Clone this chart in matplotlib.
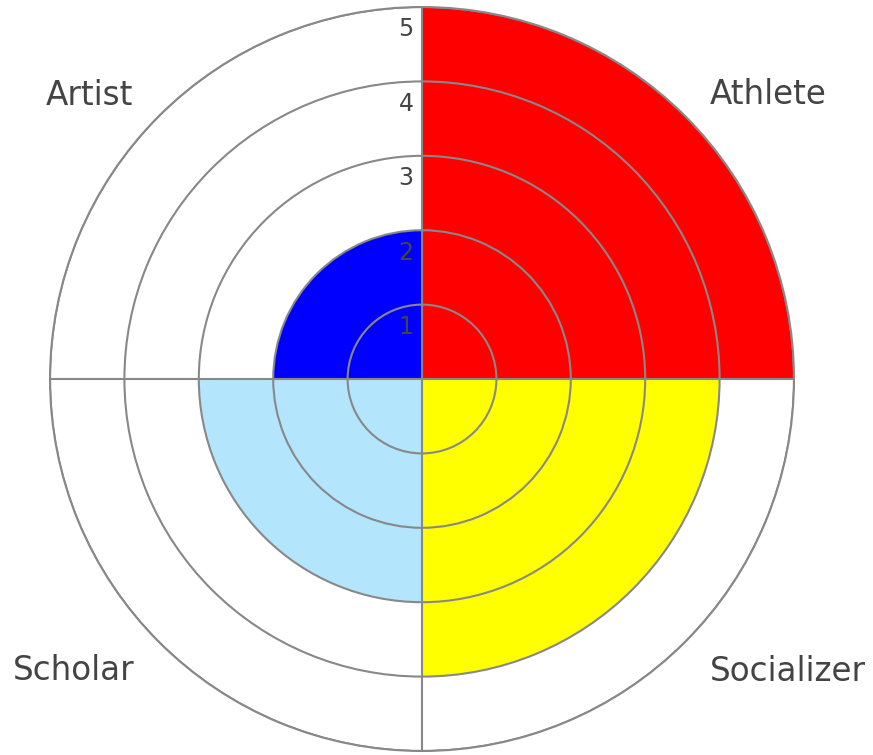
import numpy as np
import matplotlib
matplotlib.use("Agg")
import matplotlib.pyplot as plt

# quadrant data, counter-clockwise from 0 deg
categories = ["Athlete", "Artist", "Scholar", "Socializer"]
scores = [5, 2, 3, 4]
colors = ["#ff0000", "#0000ff", "#b3e5fc", "#ffff00"]
rings = [1, 2, 3, 4, 5]

GRID = "#888888"
TEXT = "#444444"

fig = plt.figure(figsize=(8.73, 7.55), dpi=100)
ax = fig.add_axes([0.0573, 0.0053, 0.8522, 0.9854], projection="polar")

width = 2 * np.pi / len(categories)
starts = np.arange(len(categories)) * width
ax.bar(starts, scores, width=width, align="edge", color=colors, linewidth=0)

ax.set_ylim(0, 5)
ax.set_rgrids(rings, labels=[""] * len(rings))
ax.set_thetagrids([0, 90, 180, 270], labels=[""] * 4)
ax.grid(True, color=GRID, linewidth=1.5)
ax.spines["polar"].set_color(GRID)
ax.spines["polar"].set_linewidth(1.5)

# ring numbers along the vertical axis, a fixed pixel offset left of the line
for r in rings:
    ax.annotate(str(r), xy=(np.pi / 2, r - 0.3), xytext=(-16, 0),
                textcoords="offset pixels", ha="center", va="center",
                fontsize=17, color=TEXT)

# category labels out at the corners
label_pos = [(39.4, 6.02), (139.5, 5.87), (219.9, 6.1), (321.4, 6.3)]
for name, (ang, rad) in zip(categories, label_pos):
    ax.text(np.deg2rad(ang), rad, name, ha="center", va="center",
            fontsize=23.5, color=TEXT, clip_on=False)

fig.savefig("out.png", dpi=100)
